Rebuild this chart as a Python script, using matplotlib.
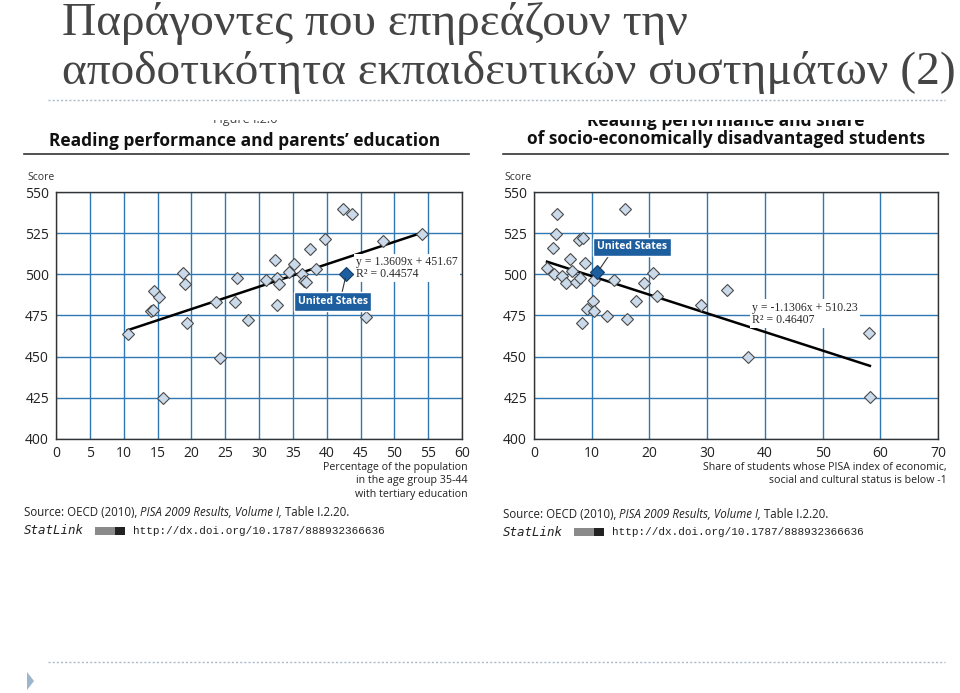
import matplotlib
matplotlib.use("Agg")
import matplotlib.pyplot as plt
from matplotlib.patches import Rectangle, Polygon
from matplotlib.lines import Line2D

W, H = 960, 693

SLIDE_TITLE = ["Παράγοντες που επηρεάζουν την", "αποδοτικότητα εκπαιδευτικών συστημάτων (2)"]

# left panel: share of 35-44 year olds with tertiary education vs reading score
edu_x = [10.6, 14.0, 14.4, 14.5, 15.2, 15.8, 18.8, 19.0, 19.3, 23.7, 24.3, 26.7, 26.5,
         28.4, 31.1, 32.4, 32.6, 32.6, 33.0, 34.5, 35.2, 36.4, 36.7, 37.0, 37.5, 38.4,
         39.8, 42.4, 43.7, 45.8, 48.3, 54.1]
edu_y = [464.0, 477.6, 478.6, 489.6, 486.1, 425.1, 500.7, 494.3, 470.5, 483.1, 449.3, 497.5,
         482.9, 472.2, 496.3, 508.6, 497.9, 481.1, 494.3, 501.3, 506.4, 500.3, 495.9, 495.3,
         515.5, 503.4, 521.4, 539.9, 536.4, 474.0, 520.2, 524.7]
edu_us = (42.9, 500.1)
edu_fit = (1.3609, 451.67, 0.44574)
edu_xticks = list(range(0, 61, 5))

# right panel: share of disadvantaged students vs reading score
dis_x = [2.25, 3.4, 3.3, 3.75, 3.9, 4.9, 5.5, 6.3, 6.6, 7.2, 7.8, 8.5, 7.9, 8.3, 8.8, 9.2,
         10.2, 10.4, 10.4, 12.65, 13.9, 15.7, 16.1, 17.6, 19.0, 20.6, 21.3, 28.9, 33.5,
         37.1, 58.0, 58.2]
dis_y = [503.9, 500.5, 515.8, 524.7, 536.5, 498.7, 494.8, 509.4, 501.9, 495.6, 521.1, 521.9,
         497.9, 470.6, 506.9, 478.8, 483.9, 478.0, 496.4, 474.8, 496.4, 539.9, 472.6, 483.7,
         494.8, 500.9, 486.7, 481.5, 490.2, 449.6, 464.5, 425.5]
dis_us = (11.0, 501.3)
dis_fit = (-1.1306, 510.23, 0.46407)
dis_xticks = list(range(0, 71, 10))

yticks = [400, 425, 450, 475, 500, 525, 550]

GRID = "#2F78B3"
US_BLUE = "#1D5E9F"
SANS = ["Open Sans", "DejaVu Sans"]
SERIF = ["Liberation Serif", "DejaVu Serif"]


def fx(x):
    return x / W


def fy(y):
    return 1 - y / H


def add_panel(fig, rect_px, xs, ys, us, fit, xticks, us_box, eq_pos):
    left, top, right, bottom = rect_px
    ax = fig.add_axes([fx(left), fy(bottom), (right - left) / W, (bottom - top) / H])
    ax.set_xlim(xticks[0], xticks[-1])
    ax.set_ylim(400, 550)
    ax.set_xticks(xticks)
    ax.set_yticks(yticks)
    ax.tick_params(length=0, labelsize=10, pad=5, labelcolor="#222222")
    for lab in ax.get_xticklabels() + ax.get_yticklabels():
        lab.set_family(SANS)
    ax.grid(True, color=GRID, linewidth=1.0)
    ax.set_axisbelow(True)
    for sp in ax.spines.values():
        sp.set_color("#333333")
        sp.set_linewidth(1.0)

    slope, icpt, r2 = fit
    x0, x1 = min(xs), max(xs)
    ax.plot([x0, x1], [slope * x0 + icpt, slope * x1 + icpt], color="black", lw=1.8, zorder=3)

    ax.plot(xs, ys, linestyle="none", marker="D", markersize=6.5,
            markerfacecolor="#CADAEA", markeredgecolor="#4A4A4A", markeredgewidth=0.8, zorder=4)
    ax.plot([us[0]], [us[1]], linestyle="none", marker="D", markersize=7,
            markerfacecolor=US_BLUE, markeredgecolor="#123E6B", markeredgewidth=0.8, zorder=5)

    sign = "+" if icpt >= 0 else "-"
    ax.text(eq_pos[0], eq_pos[1], f"y = {slope:.4f}x {sign} {abs(icpt):.2f}\nR² = {r2:.5f}",
            family=SERIF, fontsize=8.5, color="#2A2A2A", va="center", ha="left",
            linespacing=1.0, zorder=6,
            bbox=dict(facecolor="white", edgecolor="none", pad=1.5))

    ax.annotate("United States", xy=us, xytext=us_box[:2], textcoords="data",
                ha="center", va="center", fontsize=7.5, fontweight="bold", color="white",
                family=SANS, zorder=6,
                bbox=dict(boxstyle="square,pad=0.35", facecolor=US_BLUE, edgecolor="white", lw=1),
                arrowprops=dict(arrowstyle="-", color="#333333", lw=0.8,
                                relpos=us_box[2], shrinkA=0, shrinkB=3))
    return ax


def add_source(fig, x, y):
    t1 = fig.text(fx(x), fy(y), "Source: OECD (2010), ", family=SANS, fontsize=8.3,
                  va="center", color="#222222")
    t2 = fig.add_artist(matplotlib.text.Annotation(
        "PISA 2009 Results, Volume I,", xy=(1, 0), xycoords=t1, va="bottom",
        family=SANS, style="italic", fontsize=8.3, color="#222222"))
    fig.add_artist(matplotlib.text.Annotation(
        " Table I.2.20.", xy=(1, 0), xycoords=t2, va="bottom",
        family=SANS, fontsize=8.3, color="#222222"))
    fig.text(fx(x), fy(y + 18), "StatLink", family=["DejaVu Sans Mono"], style="italic",
             fontsize=9, va="center", color="#222222")
    fig.add_artist(Rectangle((fx(x + 71), fy(y + 22)), 28 / W, 8 / H,
                             transform=fig.transFigure, facecolor="#8A8A8A", edgecolor="none"))
    fig.add_artist(Rectangle((fx(x + 91), fy(y + 22)), 10 / W, 8 / H,
                             transform=fig.transFigure, facecolor="#222222", edgecolor="none"))
    fig.text(fx(x + 109), fy(y + 18), "http://dx.doi.org/10.1787/888932366636",
             family=["Liberation Mono", "DejaVu Sans Mono"], fontsize=7.9, va="center",
             color="#222222")


def main():
    fig = plt.figure(figsize=(W / 100, H / 100), dpi=100)

    # slide title, scaled so the second line spans the slide
    t_lines = []
    for i, line in enumerate(SLIDE_TITLE):
        t_lines.append(fig.text(fx(62), fy(23 + i * 50), line, family=SERIF, fontsize=30,
                                color="#454545", va="center", ha="left"))
    fig.canvas.draw()
    w = t_lines[1].get_window_extent().width
    for t in t_lines:
        t.set_fontsize(30 * 894 / w)

    dot = dict(color="#A9BBC9", lw=1.0, linestyle=(0, (1.5, 1.5)))
    fig.add_artist(Line2D([fx(48), fx(945)], [fy(100), fy(100)], transform=fig.transFigure, **dot))
    fig.add_artist(Line2D([fx(48), fx(945)], [fy(662), fy(662)], transform=fig.transFigure, **dot))
    fig.add_artist(Polygon([[fx(27), fy(672)], [fx(34), fy(681)], [fx(27), fy(690)]],
                           closed=True, transform=fig.transFigure,
                           facecolor="#9DB6CD", edgecolor="none"))

    # chart titles; the first lines are cut off at the top of the picture
    fig.text(fx(245), fy(119), "Figure I.2.6", family=SANS, fontsize=9, ha="center",
             va="center", color="#444444")
    fig.text(fx(726), fy(121), "Reading performance and share", family=SANS, fontsize=12.5,
             fontweight="bold", ha="center", va="center", color="#111111")
    fig.add_artist(Rectangle((0, fy(119.5)), 1, 17 / H, transform=fig.transFigure,
                             facecolor="white", edgecolor="none", zorder=5))
    fig.text(fx(245), fy(141), "Reading performance and parents’ education", family=SANS,
             fontsize=12.5, fontweight="bold", ha="center", va="center", color="#111111")
    fig.text(fx(726), fy(139), "of socio-economically disadvantaged students", family=SANS,
             fontsize=12.5, fontweight="bold", ha="center", va="center", color="#111111")
    for a, b in [(24, 469), (503, 948)]:
        fig.add_artist(Line2D([fx(a), fx(b)], [fy(154), fy(154)], transform=fig.transFigure,
                              color="#333333", lw=1.2))

    fig.text(fx(27), fy(178), "Score", family=SANS, fontsize=7.5, va="center", color="#333333")
    fig.text(fx(504), fy(177), "Score", family=SANS, fontsize=7.5, va="center", color="#333333")

    add_panel(fig, (56, 192, 462, 439), edu_x, edu_y, edu_us, edu_fit, edu_xticks,
              us_box=(40.9, 483.5, (0.62, 1.0)), eq_pos=(44.3, 504.0))
    add_panel(fig, (534, 192, 938, 439), dis_x, dis_y, dis_us, dis_fit, dis_xticks,
              us_box=(17.0, 516.6, (0.2, 0.0)), eq_pos=(37.8, 476.2))

    fig.text(fx(468), fy(462), "Percentage of the population\nin the age group 35-44\nwith tertiary education",
             family=SANS, fontsize=7.7, ha="right", va="top", linespacing=1.3, color="#222222")
    fig.text(fx(947), fy(462), "Share of students whose PISA index of economic,\nsocial and cultural status is below -1",
             family=SANS, fontsize=7.7, ha="right", va="top", linespacing=1.3, color="#222222")

    add_source(fig, 24, 513)
    add_source(fig, 503, 514)

    fig.savefig("out.png", dpi=100, facecolor="white")
    plt.close(fig)


if __name__ == "__main__":
    main()
